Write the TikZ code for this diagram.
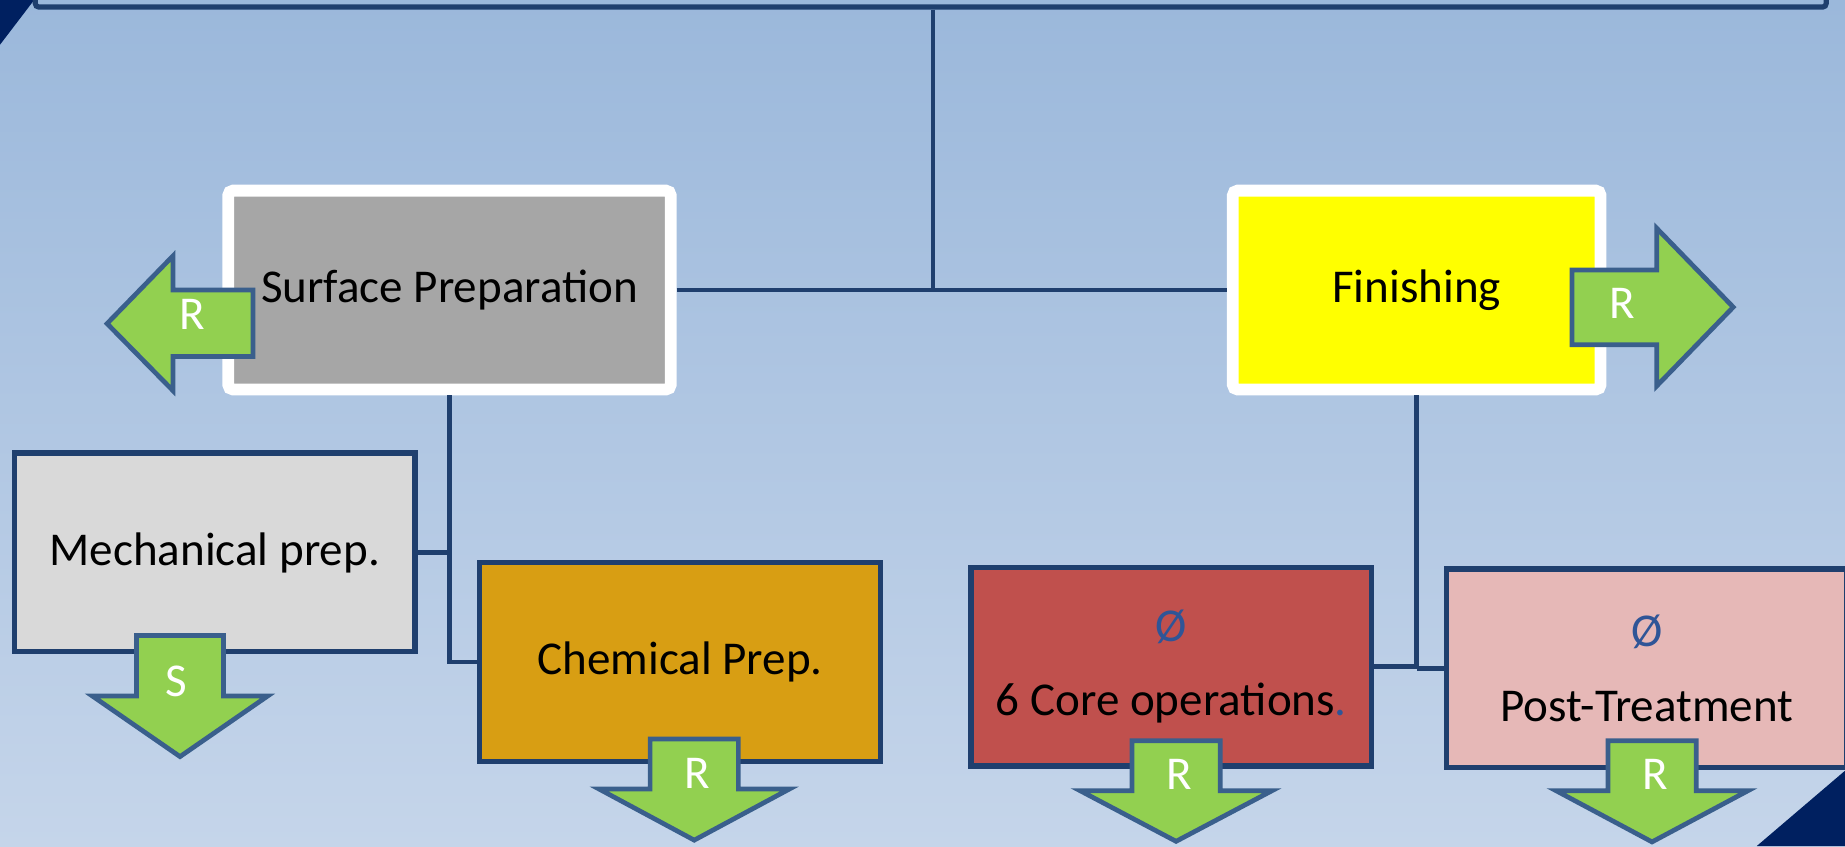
\documentclass[tikz,border=0pt]{standalone}
\usepackage{fontspec}
\setmainfont{Carlito}
\usetikzlibrary{positioning}
\definecolor{bgtop}{RGB}{155,184,219}
\definecolor{bgbottom}{RGB}{197,213,234}
\definecolor{corner}{RGB}{0,32,96}
\definecolor{navy}{RGB}{31,63,110}
\definecolor{arrowblue}{RGB}{58,95,140}
\definecolor{leaf}{RGB}{146,208,80}
\definecolor{surfgrey}{RGB}{166,166,166}
\definecolor{finyellow}{RGB}{255,255,0}
\definecolor{mechgrey}{RGB}{217,217,217}
\definecolor{chemgold}{RGB}{216,158,19}
\definecolor{corered}{RGB}{192,80,77}
\definecolor{postpink}{RGB}{230,184,183}
\definecolor{signblue}{RGB}{47,85,151}

\begin{document}
\begin{tikzpicture}[x=0.5pt, y=-0.5pt, line join=miter,
  link/.style={draw=navy, line width=2pt},
  stepbox/.style={draw=navy, line width=2.2pt, inner sep=0pt, minimum width=170.25pt, minimum height=84.5pt, align=center, font=\fontsize{20}{24}\selectfont},
  mainbox/.style={draw=white, line width=5pt, rounded corners=2pt, inner sep=0pt, minimum height=84.5pt, font=\fontsize{20}{24}\selectfont},
  greenarrow/.style={fill=leaf, draw=arrowblue, line width=2pt},
  arrowlabel/.style={text=white, inner sep=0pt, font=\fontsize{20}{24}\selectfont}]
% background and corners
\useasboundingbox (0,0) rectangle (1568,719);
\clip (0,0) rectangle (1568,719);
\shade[top color=bgtop, bottom color=bgbottom] (0,0) rectangle (1568,719);
\fill[corner] (0,0) -- (29,0) -- (0,38) -- cycle;
\node[draw=navy, line width=2.2pt, rounded corners=1.5pt, minimum width=761pt, minimum height=40pt] (goal) at (791,-34) {};

% main stages
\node[mainbox, fill=surfgrey, minimum width=188pt] (surf) at (382,246.5) {Surface Preparation};
\node[mainbox, fill=finyellow, minimum width=156.25pt] (fin) at (1204,246.5) {Finishing};

% sub stages
\node[stepbox, fill=mechgrey] (mech) at (182.5,469.5) {Mechanical prep.};
\node[stepbox, fill=chemgold] (chem) at (578,562.5) {Chemical Prep.};
\node[stepbox, fill=corered] (core) at (995.5,566.5) {\textcolor{signblue}{Ø}\\[7.5pt]6 Core operations\textcolor{signblue}{.}};
\node[stepbox, fill=postpink] (post) at (1399.5,568) {\textcolor{signblue}{Ø}\\[7.5pt]Post-Treatment};

% tree lines
\coordinate (hub) at (793,246.5);
\draw[link] (goal.south -| hub) -- (hub);
\draw[link] (surf.east) -- (fin.west);
\draw[link] (surf.south) |- (chem.west);
\draw[link] (mech.east) -- (mech.east -| surf.south);
\draw[link] (fin.south) |- (core.east);
\draw[link] (fin.south |- post.west) -- (post.west);

% block arrows
\draw[greenarrow] (215,246.5) -- (147,246.5) -- (147,217.5) -- (91,275) -- (147,332) -- (147,303) -- (215,303) -- cycle;
\node[arrowlabel] (rsurf) at (163,267) {R};
\draw[greenarrow] (1336,229.5) -- (1408,229.5) -- (1408,194) -- (1473,261) -- (1408,328) -- (1408,293) -- (1336,293) -- cycle;
\node[arrowlabel] (rfin) at (1379,257.5) {R};
\draw[greenarrow] (116,540) -- (190,540) -- (190,591.5) -- (227.5,591.5) -- (153,643) -- (78.5,591.5) -- (116,591.5) -- cycle;
\node[arrowlabel] (smech) at (149.5,579) {S};
\draw[greenarrow] (552.5,628) -- (627.5,628) -- (627.5,670.5) -- (671,670.5) -- (590,714) -- (509,670.5) -- (552.5,670.5) -- cycle;
\node[arrowlabel] (rchem) at (593,657) {R};
\draw[greenarrow] (962,629.5) -- (1037,629.5) -- (1037,672) -- (1081,672) -- (999.5,715) -- (918,672) -- (962,672) -- cycle;
\node[arrowlabel] (rcore) at (1002.5,658.5) {R};
\draw[greenarrow] (1366.5,629.5) -- (1441.5,629.5) -- (1441.5,672) -- (1485.5,672) -- (1404,715.5) -- (1322.5,672) -- (1366.5,672) -- cycle;
\node[arrowlabel] (rpost) at (1407,658.5) {R};

\fill[corner] (1568,655) -- (1568,719) -- (1493,719) -- cycle;
\end{tikzpicture}
\end{document}
